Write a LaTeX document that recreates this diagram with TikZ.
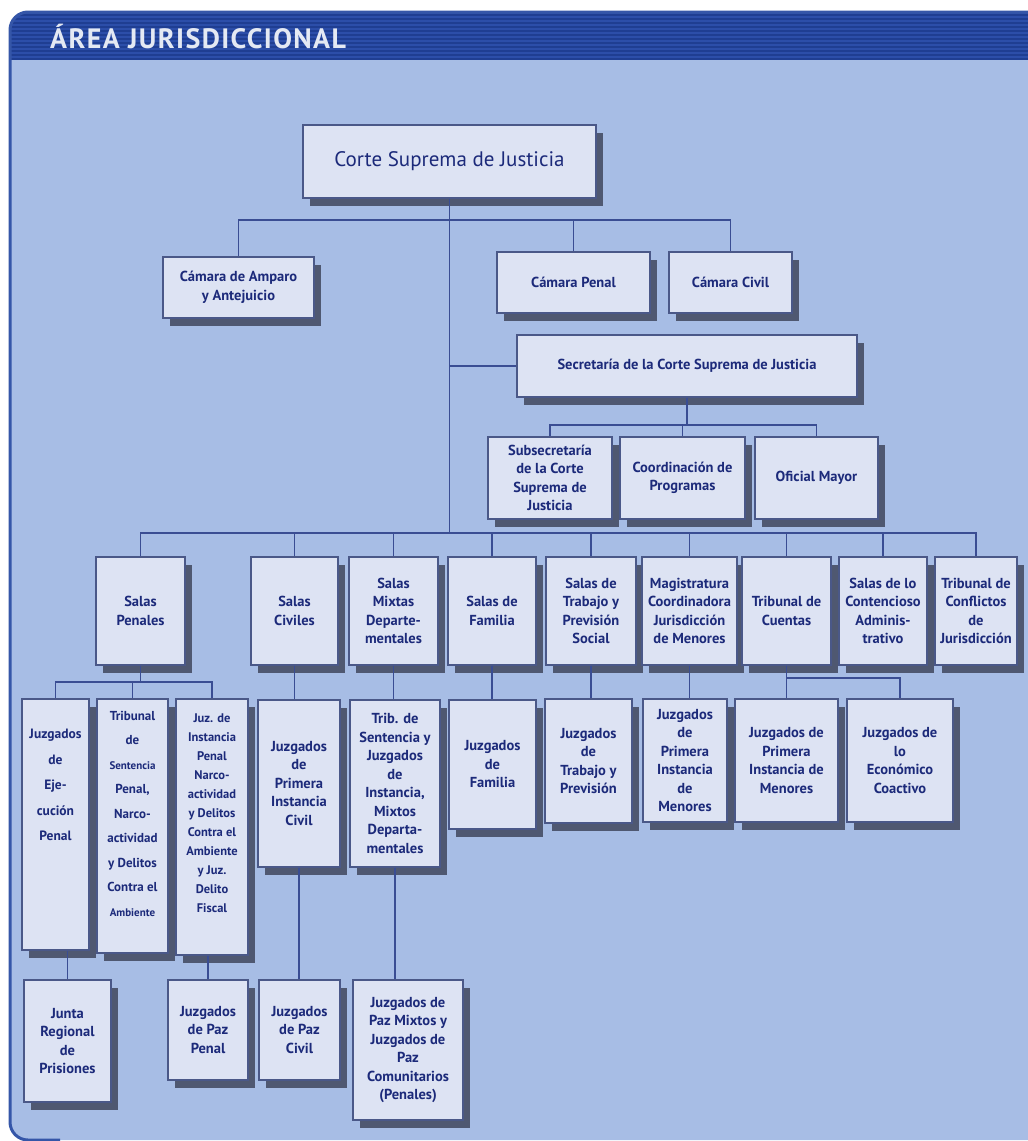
\documentclass[tikz,border=0pt]{standalone}
\usepackage{fontspec}
\setmainfont{PT Sans}
\usetikzlibrary{shadows}

\definecolor{panelblue}{HTML}{A7BDE5}
\definecolor{headblue}{HTML}{2C4EA9}
\definecolor{headstripe}{HTML}{1F3E92}
\definecolor{rimblue}{HTML}{3556A8}
\definecolor{titlewhite}{HTML}{E4E9F3}
\definecolor{boxfill}{HTML}{DDE3F3}
\definecolor{boxline}{HTML}{4A5888}
\definecolor{boxshadow}{HTML}{4F5871}
\definecolor{linkblue}{HTML}{3A4D93}
\definecolor{inkblue}{HTML}{1C2A7A}

\tikzset{
	orgbox/.style={draw=boxline, line width=1.2pt, fill=boxfill, align=center, text=inkblue, inner sep=2pt,
		font=\fontsize{14.5}{18.5}\selectfont\bfseries,
		drop shadow={shadow xshift=7pt, shadow yshift=-8pt, fill=boxshadow, opacity=1}},
	link/.style={draw=linkblue, line width=1.6pt},
}

\begin{document}
\begin{tikzpicture}[x=1pt,y=-1pt]
	\useasboundingbox (0,0) rectangle (1028,1141);
	\fill[white] (0,0) rectangle (1028,1141);
	\fill[panelblue, rounded corners=18pt] (10,12) rectangle (1060,1140);
	\begin{scope}
		\clip[rounded corners=18pt] (10,12) rectangle (1060,1140);
		\fill[headblue] (10,12) rectangle (1060,60);
		\foreach \y in {15,19,...,59}
			\draw[headstripe, line width=1.3pt] (10,\y) -- (1028,\y);
	\end{scope}
	\draw[rimblue, line width=3pt, rounded corners=18pt] (1060,12) -- (10,12) -- (10,1140) -- (60,1140);
	\node[font=\fontsize{28}{30}\selectfont\bfseries\addfontfeatures{LetterSpace=5}, text=titlewhite, anchor=base west, inner sep=0pt] (title) at (50,48) {ÁREA JURISDICCIONAL};

	\node[orgbox, minimum width=293pt, minimum height=73pt, font=\fontsize{21}{24}\selectfont] (corte) at (449.5,161.5) {Corte Suprema de Justicia};
	\node[orgbox, minimum width=151pt, minimum height=61pt] (amparo) at (238.5,287.5) {Cámara de Amparo\\y Antejuicio};
	\node[orgbox, minimum width=153pt, minimum height=61pt] (penal) at (573.5,282.5) {Cámara Penal};
	\node[orgbox, minimum width=123pt, minimum height=61pt] (civil) at (730.5,282.5) {Cámara Civil};
	\node[orgbox, minimum width=340pt, minimum height=62pt] (secre) at (687,366) {Secretaría de la Corte Suprema de Justicia};
	\node[orgbox, minimum width=124pt, minimum height=82pt] (subsec) at (550,478) {Subsecretaría\\de la Corte\\Suprema de\\Justicia};
	\node[orgbox, minimum width=125pt, minimum height=82pt] (coord) at (682.5,478) {Coordinación de\\Programas};
	\node[orgbox, minimum width=123pt, minimum height=82pt] (oficial) at (816.5,478) {Oficial Mayor};

	\node[orgbox, minimum width=89pt, minimum height=108pt] (spen) at (140.5,611) {Salas\\Penales};
	\node[orgbox, minimum width=87pt, minimum height=108pt] (sciv) at (294.5,611) {Salas\\Civiles};
	\node[orgbox, minimum width=89pt, minimum height=108pt] (smix) at (393.5,611) {Salas\\Mixtas\\Departe-\\mentales};
	\node[orgbox, minimum width=88pt, minimum height=108pt] (sfam) at (492,611) {Salas de\\Familia};
	\node[orgbox, minimum width=90pt, minimum height=108pt] (strab) at (591,611) {Salas de\\Trabajo y\\Previsión\\Social};
	\node[orgbox, minimum width=95pt, minimum height=108pt] (magis) at (689.5,611) {Magistratura\\Coordinadora\\Jurisdicción\\de Menores};
	\node[orgbox, minimum width=89pt, minimum height=108pt] (tcue) at (786.5,611) {Tribunal de\\Cuentas};
	\node[orgbox, minimum width=88pt, minimum height=108pt] (scon) at (883,611) {Salas de lo\\Contencioso\\Adminis-\\trativo};
	\node[orgbox, minimum width=82pt, minimum height=108pt] (tcon) at (976,611) {Tribunal de\\Conflictos\\de\\Jurisdicción};

	\node[orgbox, minimum width=67pt, minimum height=251pt, font=\fontsize{13.5}{25.5}\selectfont\bfseries] (jejec) at (55.5,824.5) {Juzgados\\de\\Eje-\\cución\\Penal\\[53pt]\mbox{}};
	\node[orgbox, minimum width=71pt, minimum height=254pt, font=\fontsize{13}{24.5}\selectfont\bfseries] (tsent) at (132.5,826) {Tribunal\\de\\{\fontsize{11}{24.5}\selectfont Sentencia}\\Penal,\\Narco-\\actividad\\y Delitos\\Contra el\\{\fontsize{11}{24.5}\selectfont Ambiente}\\\mbox{}};
	\node[orgbox, minimum width=72pt, minimum height=256pt, font=\fontsize{12.5}{19}\selectfont\bfseries] (jinst) at (212,827) {Juz. de\\Instancia\\Penal\\Narco-\\actividad\\y Delitos\\Contra el\\Ambiente\\y Juz.\\Delito\\Fiscal\\[9pt]\mbox{}};
	\node[orgbox, minimum width=82pt, minimum height=167pt] (jciv) at (299,783.5) {Juzgados\\de\\Primera\\Instancia\\Civil};
	\node[orgbox, minimum width=90pt, minimum height=167pt] (tmix) at (395,783.5) {Trib. de\\Sentencia y\\Juzgados\\de\\Instancia,\\Mixtos\\Departa-\\mentales};
	\node[orgbox, minimum width=87pt, minimum height=129pt] (jfam) at (492.5,764.5) {Juzgados\\de\\Familia};
	\node[orgbox, minimum width=87pt, minimum height=124pt] (jtrab) at (588.5,761) {Juzgados\\de\\Trabajo y\\Previsión};
	\node[orgbox, minimum width=84pt, minimum height=123pt] (jmen) at (685,760.5) {Juzgados\\de\\Primera\\Instancia\\de\\Menores};
	\node[orgbox, minimum width=103pt, minimum height=123pt] (jmenb) at (786.5,760.5) {Juzgados de\\Primera\\Instancia de\\Menores};
	\node[orgbox, minimum width=106pt, minimum height=123pt] (jcoac) at (900,760.5) {Juzgados de\\lo\\Económico\\Coactivo};

	\node[orgbox, minimum width=87pt, minimum height=122pt] (jregion) at (67.5,1041) {Junta\\Regional\\de\\Prisiones};
	\node[orgbox, minimum width=80pt, minimum height=100pt] (jpazp) at (208,1030) {Juzgados\\de Paz\\Penal};
	\node[orgbox, minimum width=81pt, minimum height=100pt] (jpazc) at (299.5,1030) {Juzgados\\de Paz\\Civil};
	\node[orgbox, minimum width=110pt, minimum height=140pt] (jpazm) at (408,1050) {Juzgados de\\Paz Mixtos y\\Juzgados de\\Paz\\Comunitarios\\(Penales)};

	\coordinate (topbar) at (0,220);
	\coordinate (secbar) at (0,425);
	\coordinate (salabar) at (0,533);
	\coordinate (ctabar) at (0,678);
	\coordinate (penbar) at (0,682);

	\draw[link] (corte.south) -- (corte.south |- salabar);
	\draw[link] (amparo.north) |- (topbar -| civil.north) -- (civil.north);
	\draw[link] (penal.north) -- (penal.north |- topbar);
	\draw[link] (corte.south |- secre.west) -- (secre.west);
	\draw[link] (secre.south) -- (secre.south |- secbar);
	\draw[link] (subsec.north) |- (secbar -| oficial.north) -- (oficial.north);
	\draw[link] (coord.north) -- (coord.north |- secbar);
	\draw[link] (spen.north) |- (salabar -| tcon.north) -- (tcon.north);
	\foreach \n in {sciv,smix,sfam,strab,magis,tcue,scon}
		\draw[link] (\n.north) -- (\n.north |- salabar);
	\draw[link] (spen.south) -- (spen.south |- penbar);
	\draw[link] (jejec.north) |- (penbar -| jinst.north) -- (jinst.north);
	\draw[link] (tsent.north) -- (tsent.north |- penbar);
	\foreach \a/\b in {sciv/jciv,smix/tmix,sfam/jfam,strab/jtrab,magis/jmen}
		\draw[link] (\a.south) -- (\a.south |- \b.north);
	\draw[link] (tcue.south) -- (tcue.south |- ctabar);
	\draw[link] (jmenb.north) |- (ctabar -| jcoac.north) -- (jcoac.north);
	\draw[link] (jregion.north) -- (jregion.north |- jejec.south);
	\draw[link] (jpazp.north) -- (jpazp.north |- jinst.south);
	\draw[link] (jciv.south) -- (jciv.south |- jpazc.north);
	\draw[link] (tmix.south) -- (tmix.south |- jpazm.north);
\end{tikzpicture}
\end{document}
